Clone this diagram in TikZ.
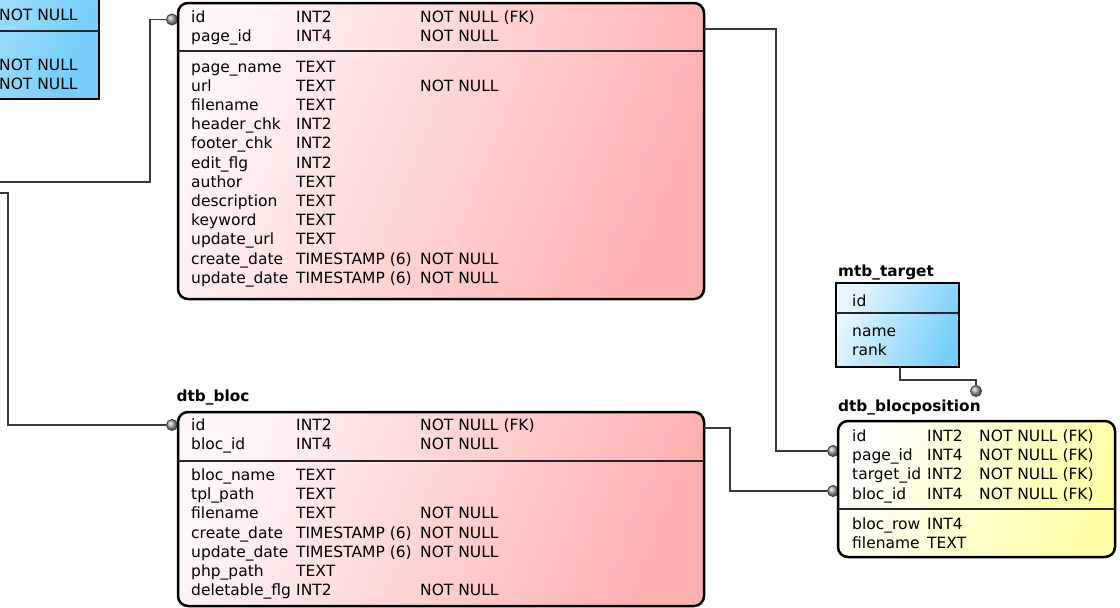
\documentclass[tikz,border=0pt]{standalone}
\usepackage{fontspec}
\setmainfont{DejaVu Sans}
\definecolor{redL}{RGB}{255,246,246}
\definecolor{redD}{RGB}{255,176,176}
\definecolor{bluL}{RGB}{232,247,255}
\definecolor{bluD}{RGB}{120,206,250}
\definecolor{yelL}{RGB}{255,255,250}
\definecolor{yelD}{RGB}{255,255,168}
\tikzset{
  fld/.style={anchor=base west, inner sep=0pt, font=\fontsize{15.5}{18}\selectfont},
  ttl/.style={anchor=base west, inner sep=0pt, font=\fontsize{15.3}{18}\selectfont\bfseries},
  tbl/.style={draw=black, line width=2.5pt, inner sep=0pt, outer sep=0pt, anchor=north west},
  tblred/.style={tbl, rounded corners=10pt, top color=redL, bottom color=redD, shading angle=68},
  tblyel/.style={tbl, rounded corners=10pt, top color=yelL, bottom color=yelD, shading angle=68},
  tblblu/.style={tbl, top color=bluL, bottom color=bluD, shading angle=68},
  conn/.style={draw=black!78, line width=1.5pt},
  knob/.style={circle, draw=black!75, line width=0.9pt, inner sep=0pt, minimum size=11pt, ball color=gray!70},
  divline/.style={draw=black!85, line width=1.3pt}
}
\begin{document}
\begin{tikzpicture}[x=1pt, y=-1pt]
\useasboundingbox (0,0) rectangle (1120,608);
\clip (0,0) rectangle (1120,608);

% ---------- connectors ----------
\coordinate (offA) at (-5,182);
\coordinate (offB) at (-5,193);
\node[knob] (k1) at (172,19.5) {};
\node[knob] (k2) at (172,425) {};
\node[knob] (k3) at (833,451) {};
\node[knob] (k4) at (833,491) {};
\node[knob] (k5) at (976,391) {};

\draw[conn] (offA) -- (150,182) |- (k1);
\draw[conn] (offB) -- (8,193) |- (k2);

% ---------- partial blue table (top-left) ----------
\node[tblblu, minimum width=300pt, minimum height=150pt, anchor=south east] (cat) at (99,99) {};
\coordinate (catd) at (0,31);
\draw[divline] (cat.west |- catd) -- (cat.east |- catd);
\node[fld] (cat1) at (-1,20.5) {NOT NULL};
\node[fld] (cat2) at (-1,70.5) {NOT NULL};
\node[fld] (cat3) at (-1,89.5) {NOT NULL};

% ---------- page layout table ----------
\node[tblred, minimum width=526pt, minimum height=296pt] (pl) at (178,3) {};
\coordinate (pld) at (0,51);
\draw[divline] (pl.west |- pld) -- (pl.east |- pld);
\foreach \n/\t/\c [count=\i] in {id/INT2/NOT NULL (FK), page\_id/INT4/NOT NULL}{
  \node[fld] (plk\i n) at (191,3+19.2*\i) {\n};
  \node[fld] (plk\i t) at (296,3+19.2*\i) {\t};
  \node[fld] (plk\i c) at (420,3+19.2*\i) {\c};
}
\foreach \n/\t/\c [count=\i] in {page\_name/TEXT/, url/TEXT/NOT NULL, filename/TEXT/,
  header\_chk/INT2/, footer\_chk/INT2/, edit\_flg/INT2/, author/TEXT/, description/TEXT/,
  keyword/TEXT/, update\_url/TEXT/, create\_date/TIMESTAMP (6)/NOT NULL, update\_date/TIMESTAMP (6)/NOT NULL}{
  \node[fld] (plf\i n) at (191,52.8+19.2*\i) {\n};
  \node[fld] (plf\i t) at (296,52.8+19.2*\i) {\t};
  \node[fld] (plf\i c) at (420,52.8+19.2*\i) {\c};
}

% ---------- dtb_bloc ----------
\node[ttl] (blocttl) at (176.5,401.5) {dtb\_bloc};
\node[tblred, minimum width=526pt, minimum height=194pt] (bloc) at (178,412) {};
\coordinate (blocd) at (0,461);
\draw[divline] (bloc.west |- blocd) -- (bloc.east |- blocd);
\foreach \n/\t/\c [count=\i] in {id/INT2/NOT NULL (FK), bloc\_id/INT4/NOT NULL}{
  \node[fld] (bk\i n) at (191,411.5+19.2*\i) {\n};
  \node[fld] (bk\i t) at (296,411.5+19.2*\i) {\t};
  \node[fld] (bk\i c) at (420,411.5+19.2*\i) {\c};
}
\foreach \n/\t/\c [count=\i] in {bloc\_name/TEXT/, tpl\_path/TEXT/, filename/TEXT/NOT NULL,
  create\_date/TIMESTAMP (6)/NOT NULL, update\_date/TIMESTAMP (6)/NOT NULL, php\_path/TEXT/,
  deletable\_flg/INT2/NOT NULL}{
  \node[fld] (bf\i n) at (191,461.3+19.2*\i) {\n};
  \node[fld] (bf\i t) at (296,461.3+19.2*\i) {\t};
  \node[fld] (bf\i c) at (420,461.3+19.2*\i) {\c};
}

% ---------- mtb_target ----------
\node[ttl] (tgtttl) at (838,276) {mtb\_target};
\node[tblblu, minimum width=123pt, minimum height=84pt] (tgt) at (836,283) {};
\coordinate (tgtd) at (0,313);
\draw[divline] (tgt.west |- tgtd) -- (tgt.east |- tgtd);
\node[fld] (tg1) at (852,306.5) {id};
\node[fld] (tg2) at (852,336.5) {name};
\node[fld] (tg3) at (852,355.5) {rank};

% ---------- dtb_blocposition ----------
\node[ttl] (bpttl) at (838,411.5) {dtb\_blocposition};
\node[tblyel, minimum width=277pt, minimum height=136pt] (bp) at (838,421) {};
\coordinate (bpd) at (0,509);
\draw[divline] (bp.west |- bpd) -- (bp.east |- bpd);
\foreach \n/\t/\c [count=\i] in {id/INT2/NOT NULL (FK), page\_id/INT4/NOT NULL (FK),
  target\_id/INT2/NOT NULL (FK), bloc\_id/INT4/NOT NULL (FK)}{
  \node[fld] (bpk\i n) at (852,422.3+19.2*\i) {\n};
  \node[fld] (bpk\i t) at (927,422.3+19.2*\i) {\t};
  \node[fld] (bpk\i c) at (979,422.3+19.2*\i) {\c};
}
\node[fld] (bpf1n) at (852,529) {bloc\_row};
\node[fld] (bpf1t) at (927,529) {INT4};
\node[fld] (bpf2n) at (852,548) {filename};
\node[fld] (bpf2t) at (927,548) {TEXT};

% ---------- connectors on the right ----------
\draw[conn] (pl.north east) ++(0,26) -- ++(72,0) |- (k3);
\draw[conn] (bloc.north east) ++(0,16) -- ++(26,0) |- (k4);
\draw[conn] (tgt.south) ++(2.5,0) -- ++(0,13) -| (k5);
\end{tikzpicture}
\end{document}
